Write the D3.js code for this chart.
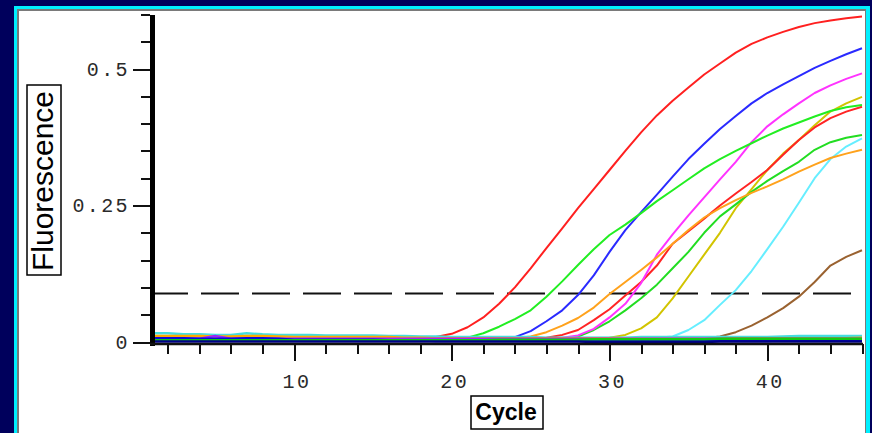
<!DOCTYPE html>
<html>
<head>
<meta charset="utf-8">
<script src="https://cdnjs.cloudflare.com/ajax/libs/d3/7.8.5/d3.min.js"></script>
<style type="text/css">
body { margin: 0; background: #00005c; }
svg { display: block; }
.tick text { font-family: "Liberation Mono", "DejaVu Sans Mono", monospace; font-size: 20px; letter-spacing: 2.4px; fill: #2a2a2a; }
.tick line { stroke: #111; stroke-width: 2; shape-rendering: crispEdges; }
.domain { display: none; }
path.amp { fill: none; stroke-width: 2; stroke-linejoin: round; }
path.flat { fill: none; stroke-width: 2.5; }
line.threshold { stroke: #111; stroke-width: 2; stroke-dasharray: 38,13; }
rect.labelbox { fill: none; stroke: #000; stroke-width: 1.5; }
</style>
</head>
<body>
<div id="chart"></div>
<script>
// cycle numbers and fluorescence readings
var cycles = [1,2,3,4,5,6,7,8,9,10,11,12,13,14,15,16,17,18,19,20,21,22,23,24,25,26,27,28,29,30,31,32,33,34,35,36,37,38,39,40,41,42,43,44,45,46];

var red1    = [.005,.005,.005,.005,.005,.005,.005,.005,.005,.005,.005,.005,.005,.005,.005,.005,.005,.006,.009,.015,.027,.045,.070,.100,.135,.172,.208,.245,.280,.315,.350,.384,.415,.442,.466,.490,.510,.530,.546,.558,.568,.577,.584,.589,.593,.596];
var green1  = [.004,.004,.004,.004,.004,.004,.004,.004,.004,.004,.004,.004,.004,.004,.004,.004,.004,.004,.004,.005,.008,.016,.028,.042,.058,.083,.111,.141,.170,.196,.215,.236,.258,.278,.298,.318,.335,.350,.364,.378,.391,.402,.413,.423,.430,.434];
var blue1   = [.004,.004,.004,.004,.004,.004,.004,.004,.004,.004,.004,.004,.004,.004,.004,.004,.004,.004,.004,.004,.004,.005,.006,.009,.020,.038,.058,.086,.122,.165,.205,.238,.270,.303,.335,.363,.390,.414,.437,.456,.472,.487,.502,.515,.527,.538];
var orange1 = [.006,.006,.006,.006,.006,.006,.006,.006,.006,.006,.006,.006,.006,.006,.006,.006,.006,.006,.006,.006,.006,.006,.006,.007,.010,.018,.030,.044,.063,.088,.110,.132,.155,.180,.205,.228,.245,.260,.273,.285,.298,.312,.325,.337,.345,.352];
var magenta = [.004,.004,.004,.004,.004,.004,.004,.004,.004,.004,.004,.004,.004,.004,.004,.004,.004,.004,.004,.004,.004,.004,.004,.004,.004,.005,.008,.012,.024,.045,.070,.108,.160,.197,.232,.265,.298,.330,.366,.395,.417,.437,.456,.470,.482,.492];
var red2    = [.003,.003,.003,.003,.003,.003,.003,.003,.003,.003,.003,.003,.003,.003,.003,.003,.003,.003,.003,.003,.003,.003,.003,.004,.005,.008,.013,.022,.040,.060,.085,.110,.140,.180,.203,.226,.250,.272,.293,.315,.343,.370,.393,.410,.422,.431];
var green2  = [.003,.003,.003,.003,.003,.003,.003,.003,.003,.003,.003,.003,.003,.003,.003,.003,.003,.003,.003,.003,.003,.003,.003,.003,.003,.003,.004,.010,.022,.038,.058,.080,.105,.135,.165,.200,.230,.252,.275,.295,.313,.330,.352,.366,.374,.379];
var yellow1 = [.005,.005,.005,.005,.005,.005,.005,.005,.005,.005,.005,.005,.005,.005,.005,.005,.005,.005,.005,.005,.005,.005,.005,.005,.005,.005,.005,.005,.005,.008,.013,.025,.045,.080,.120,.160,.200,.245,.280,.315,.345,.370,.397,.422,.437,.449];
var cyan1   = [.008,.008,.008,.008,.008,.008,.008,.008,.008,.008,.008,.008,.008,.008,.008,.008,.008,.008,.008,.008,.008,.008,.008,.008,.008,.008,.008,.008,.008,.008,.008,.008,.008,.010,.022,.040,.068,.095,.130,.170,.211,.255,.300,.335,.358,.373];
var brown1  = [.004,.004,.004,.004,.004,.004,.004,.004,.004,.004,.004,.004,.004,.004,.004,.004,.004,.004,.004,.004,.004,.004,.004,.004,.004,.004,.004,.004,.004,.004,.004,.004,.004,.004,.005,.007,.010,.018,.030,.045,.062,.083,.110,.140,.156,.168];

// samples that never amplify
var tealFlat   = [.016,.016,.014,.014,.013,.013,.016,.014,.013,.013,.013,.012,.012,.012,.012,.011,.011,.010,.010,.009,.009,.009,.009,.009,.009,.008,.008,.008,.008,.008,.008,.009,.009,.009,.009,.009,.009,.009,.009,.009,.010,.011,.011,.011,.011,.011];
var orangeFlat = [.011,.011,.011,.011,.010,.010,.011,.011,.010,.009,.009,.009,.009,.009,.009,.009,.008,.008,.007,.007,.007,.007,.007,.007,.007,.007,.007,.007,.007,.007,.006,.006,.006,.006,.006,.006,.006,.007,.007,.007,.007,.007,.007,.007,.007,.008];
var blueFlat   = [.007,.007,.007,.006,.006,.006,.007,.007,.006,.004,.004,.004,.004,.004,.004,.003,.003,.003,.002,.002,.002,.002,.002,.002,.002,.002,.002,.002,.002,.002,.002,.002,.002,.002,.002,.002,.002,.002,.002,.002,.003,.004,.004,.004,.004,.004];
var greenFlat  = [.003,.003,.003,.003,.003,.003,.003,.003,.003,.003,.003,.003,.003,.003,.003,.003,.003,.003,.003,.003,.003,.003,.004,.004,.004,.004,.004,.004,.005,.005,.005,.005,.005,.005,.005,.005,.006,.006,.006,.006,.006,.006,.006,.006,.006,.006];
var purpleFlat = [.006,.006,.006,.006,.011,.006,.006,.006,.006,.006,.006,.006,.006,.006,.006,.006,.006,.006,.006,.006,.006,.006,.006,.006,.006,.006,.006,.006,.006,.006,.006,.006,.006,.006,.006,.006,.006,.006,.006,.006,.006,.006,.006,.006,.006,.006];
var navyFlat   = [.001,.001,.001,.001,.001,.001,.001,.001,.001,.001,.001,.001,.001,.001,.001,.001,.001,.001,.001,.001,.001,.001,.001,.001,.001,.001,.001,.001,.000,.000,.000,.000,.000,.000,.000,.000,.001,.001,.001,.001,.001,.001,.001,.001,.001,.001];

var threshold = 0.089;
var yMajorTicks = [0, 0.25, 0.5];
var yMinorTicks = [0,.05,.1,.15,.2,.25,.3,.35,.4,.45,.5,.55,.6];
var xMajorTicks = [10, 20, 30, 40];
var xMinorTicks = [2,4,6,8,10,12,14,16,18,20,22,24,26,28,30,32,34,36,38,40,42,44,46];

var ampSeries = [
  {values: brown1,  color: "#9a6230"},
  {values: cyan1,   color: "#66eeff"},
  {values: yellow1, color: "#d2c400"},
  {values: green2,  color: "#22dd22"},
  {values: red2,    color: "#ff2424"},
  {values: magenta, color: "#ff33ff"},
  {values: orange1, color: "#ffa21c"},
  {values: blue1,   color: "#2a2aff"},
  {values: green1,  color: "#22ee22"},
  {values: red1,    color: "#ff2020"}
];
var flatSeries = [
  {values: tealFlat,   color: "#44dede"},
  {values: orangeFlat, color: "#ffa800"},
  {values: purpleFlat, color: "#9922ff"},
  {values: blueFlat,   color: "#0a0ad8"},
  {values: greenFlat,  color: "#11cc11"},
  {values: navyFlat,   color: "#000088"}
];

var width = 872, height = 433;
var svg = d3.select("#chart").append("svg")
    .attr("width", width)
    .attr("height", height);

// window frame: navy, cyan border, grey inner line, white panel
svg.append("rect").attr("width", width).attr("height", height).attr("fill", "#00005c");
svg.append("rect").attr("x", 14).attr("y", 6).attr("width", 856).attr("height", 500).attr("fill", "#00f0ff");
svg.append("rect").attr("x", 17).attr("y", 9).attr("width", 849).attr("height", 500).attr("fill", "#7a7a7a");
svg.append("rect").attr("x", 19).attr("y", 11).attr("width", 846).attr("height", 500).attr("fill", "#ffffff");

var x = d3.scaleLinear().domain([1, 46]).range([152, 862]);
var y = d3.scaleLinear().domain([0, 0.6]).range([342, 14.4]);

svg.append("defs").append("clipPath").attr("id", "plotclip")
  .append("rect").attr("x", 152).attr("y", 11).attr("width", 711).attr("height", 333);

// y axis ticks (minor then major)
svg.append("g").attr("transform", "translate(150,0)")
  .call(d3.axisLeft(y).tickValues(yMinorTicks).tickSize(9).tickFormat(""));
svg.append("g").attr("transform", "translate(150,0)")
  .call(d3.axisLeft(y).tickValues(yMajorTicks).tickSize(17).tickPadding(3)
        .tickFormat(function(d) { return String(d); }));

// x axis ticks
svg.append("g").attr("transform", "translate(0,344)")
  .call(d3.axisBottom(x).tickValues(xMinorTicks).tickSize(10).tickFormat(""));
svg.append("g").attr("transform", "translate(0,344)")
  .call(d3.axisBottom(x).tickValues(xMajorTicks).tickSize(17).tickPadding(13)
        .tickFormat(function(d) { return String(d); }))
  .selectAll("text").attr("dx", "0.12em");

// threshold line
svg.append("line")
  .attr("class", "threshold")
  .attr("x1", 150).attr("x2", x(46))
  .attr("y1", y(threshold)).attr("y2", y(threshold));

var line = d3.line()
  .x(function(d, i) { return x(cycles[i]); })
  .y(function(d) { return y(d); });

var plot = svg.append("g").attr("clip-path", "url(#plotclip)");
plot.selectAll("path.amp")
  .data(ampSeries)
  .enter().append("path")
    .attr("class", "amp")
    .attr("stroke", function(d) { return d.color; })
    .attr("d", function(d) { return line(d.values); });
plot.selectAll("path.flat")
  .data(flatSeries)
  .enter().append("path")
    .attr("class", "flat")
    .attr("stroke", function(d) { return d.color; })
    .attr("d", function(d) { return line(d.values); });

// axis lines: thick y axis, x axis
svg.append("line").attr("x1", 152.5).attr("x2", 152.5).attr("y1", 15).attr("y2", 346)
  .attr("stroke", "#000").attr("stroke-width", 5);
svg.append("line").attr("x1", 150).attr("x2", x(46) + 1).attr("y1", 344).attr("y2", 344)
  .attr("stroke", "#111").attr("stroke-width", 2.5);

// axis titles in boxes
svg.append("rect").attr("class", "labelbox").attr("x", 27).attr("y", 85).attr("width", 34).attr("height", 190);
svg.append("text")
  .attr("transform", "translate(53,181) rotate(-90)")
  .attr("text-anchor", "middle")
  .attr("font-family", "Liberation Sans, Arial, sans-serif")
  .attr("font-size", 30)
  .attr("textLength", 180)
  .attr("fill", "#000")
  .text("Fluorescence");

svg.append("rect").attr("class", "labelbox").attr("x", 471).attr("y", 396).attr("width", 72).attr("height", 33);
svg.append("text")
  .attr("x", 506).attr("y", 420)
  .attr("text-anchor", "middle")
  .attr("font-family", "Liberation Sans, Arial, sans-serif")
  .attr("font-weight", "bold")
  .attr("font-size", 23)
  .attr("fill", "#000")
  .text("Cycle");
</script>
</body>
</html>
